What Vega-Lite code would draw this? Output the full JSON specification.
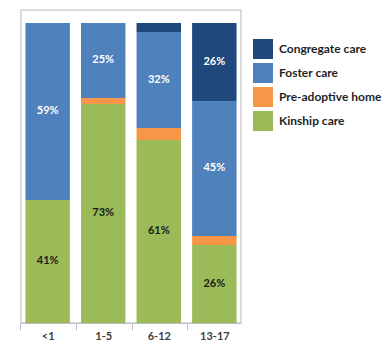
{
  "$schema": "https://vega.github.io/schema/vega-lite/v6.json",
  "width": 220,
  "height": 313,
  "padding": {"left": 19, "top": 10, "right": 0, "bottom": 0},
  "config": {"view": {"stroke": "#cfcfcf", "strokeWidth": 1.5}, "font": "Lato"},
  "data": {
    "values": [
      {"age": "<1", "type": "Kinship care", "ord": 1, "value": 41},
      {"age": "<1", "type": "Pre-adoptive home", "ord": 2, "value": 0},
      {"age": "<1", "type": "Foster care", "ord": 3, "value": 59},
      {"age": "<1", "type": "Congregate care", "ord": 4, "value": 0},
      {"age": "1-5", "type": "Kinship care", "ord": 1, "value": 73},
      {"age": "1-5", "type": "Pre-adoptive home", "ord": 2, "value": 2},
      {"age": "1-5", "type": "Foster care", "ord": 3, "value": 25},
      {"age": "1-5", "type": "Congregate care", "ord": 4, "value": 0},
      {"age": "6-12", "type": "Kinship care", "ord": 1, "value": 61},
      {"age": "6-12", "type": "Pre-adoptive home", "ord": 2, "value": 4},
      {"age": "6-12", "type": "Foster care", "ord": 3, "value": 32},
      {"age": "6-12", "type": "Congregate care", "ord": 4, "value": 3},
      {"age": "13-17", "type": "Kinship care", "ord": 1, "value": 26},
      {"age": "13-17", "type": "Pre-adoptive home", "ord": 2, "value": 3},
      {"age": "13-17", "type": "Foster care", "ord": 3, "value": 45},
      {"age": "13-17", "type": "Congregate care", "ord": 4, "value": 26}
    ]
  },
  "transform": [
    {"stack": "value", "groupby": ["age"], "sort": [{"field": "ord", "order": "ascending"}], "as": ["v0", "v1"]},
    {"calculate": "(datum.v0 + datum.v1) / 2", "as": "mid"},
    {"calculate": "datum.value + '%'", "as": "label"}
  ],
  "encoding": {
    "x": {
      "field": "age",
      "type": "nominal",
      "sort": ["<1", "1-5", "6-12", "13-17"],
      "scale": {"paddingInner": 0.2, "paddingOuter": 0.08},
      "axis": {
        "title": null,
        "labelAngle": 0,
        "domainColor": "#bfbfbf",
        "tickColor": "#bfbfbf",
        "tickSize": 7,
        "bandPosition": 0,
        "tickOffset": -5,
        "labelOffset": 5,
        "labelFont": "Lato",
        "labelFontWeight": "bold",
        "labelFontSize": 11,
        "labelColor": "#404040",
        "labelPadding": 0,
        "grid": false
      }
    }
  },
  "layer": [
    {
      "mark": {"type": "bar"},
      "encoding": {
        "y": {"field": "v1", "type": "quantitative", "scale": {"domain": [0, 104.3], "nice": false}, "axis": null},
        "y2": {"field": "v0"},
        "color": {
          "field": "type",
          "type": "nominal",
          "scale": {
            "domain": ["Congregate care", "Foster care", "Pre-adoptive home", "Kinship care"],
            "range": ["#1F497D", "#4F81BD", "#F79646", "#9BBB59"]
          },
          "legend": {
            "orient": "none",
            "legendX": 232,
            "legendY": 29,
            "title": null,
            "symbolType": "square",
            "symbolSize": 400,
            "symbolStrokeWidth": 0,
            "symbolOpacity": 1,
            "labelFont": "Lato",
            "labelFontSize": 12,
            "labelFontWeight": "bold",
            "labelColor": "#1f1f1f",
            "labelOffset": 6,
            "rowPadding": 4,
            "labelLimit": 200
          }
        }
      }
    },
    {
      "transform": [{"filter": "datum.value >= 10"}],
      "mark": {"type": "text", "fontWeight": "bold", "fontSize": 11, "font": "Lato"},
      "encoding": {
        "y": {"field": "mid", "type": "quantitative"},
        "text": {"field": "label", "type": "nominal"},
        "color": {
          "condition": {"test": "datum.type === 'Kinship care'", "value": "#1a1a1a"},
          "value": "#ffffff"
        }
      }
    }
  ]
}
